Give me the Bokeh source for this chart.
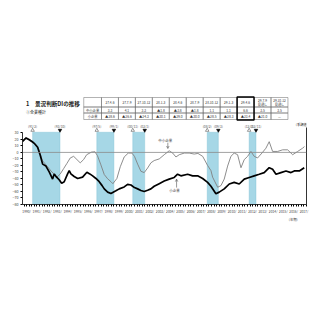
from bokeh.plotting import figure
from bokeh.layouts import column
from bokeh.models import Range1d, FixedTicker, LinearAxis, Label, Arrow, OpenHead, Span
from bokeh.core.properties import value
from bokeh.embed import file_html
from bokeh.resources import INLINE

JP = "Noto Sans CJK JP"

# ---------------- data ----------------
years_small = [1990.11, 1990.43, 1990.75, 1991.08, 1991.24, 1991.57, 1991.82, 1992.06, 1992.38, 1992.70,
               1993.03, 1993.19, 1993.42, 1993.67, 1993.91, 1994.16, 1994.49, 1994.65, 1994.81, 1995.13,
               1995.47, 1995.95, 1996.37, 1996.65, 1996.93, 1997.25, 1997.57, 1997.85, 1998.06, 1998.39,
               1998.71, 1999.19, 1999.52, 2000.00, 2000.33, 2000.66, 2001.00, 2001.31, 2001.63, 2001.95,
               2002.28, 2002.60, 2002.92, 2003.41, 2003.90, 2004.38, 2004.87, 2005.20, 2005.52, 2006.18,
               2006.66, 2007.15, 2007.64, 2008.12, 2008.45, 2008.93, 2009.25, 2009.74, 2010.23, 2010.71,
               2011.20, 2011.69, 2012.17, 2012.66, 2013.15, 2013.63, 2014.12, 2014.45, 2014.78, 2015.26,
               2015.75, 2016.24, 2016.56, 2017.05, 2017.53]
di_small = [17, 22, 19.5, 16, 14, 8, -4, -18, -21, -30,
            -41, -33, -38, -42, -47.5, -45, -33, -28, -33, -37,
            -40, -38, -30.5, -33, -36, -40, -45, -51, -56, -61,
            -63, -59, -56, -53, -49, -50, -54, -56, -58.5, -60,
            -58, -56, -52, -48, -44, -41, -38.5, -33.5, -36, -33.5,
            -36, -36, -40, -46, -52, -63.5, -61, -56, -48.5, -46,
            -48.5, -41, -38.5, -36, -33.5, -31, -23.5, -26, -33.5, -31,
            -28.5, -31, -28.5, -28.5, -23.5]

years_sme = [1990.11, 1990.43, 1990.75, 1991.08, 1991.57, 1991.82, 1992.06, 1992.38, 1992.70, 1992.87,
             1993.19, 1993.45, 1993.78, 1994.10, 1994.42, 1994.75, 1995.08, 1995.40, 1995.72, 1996.05,
             1996.35, 1996.82, 1997.15, 1997.40, 1997.73, 1998.06, 1998.39, 1998.71, 1998.90, 1999.29,
             1999.62, 2000.00, 2000.40, 2000.75, 2001.00, 2001.31, 2001.63, 2001.95, 2002.28, 2002.60,
             2002.92, 2003.41, 2003.90, 2004.38, 2004.72, 2005.04, 2005.36, 2005.85, 2006.33, 2006.82,
             2007.18, 2007.64, 2008.12, 2008.45, 2008.61, 2009.10, 2009.42, 2009.74, 2010.07, 2010.39,
             2010.71, 2011.04, 2011.37, 2011.69, 2012.02, 2012.34, 2012.66, 2012.99, 2013.41, 2013.80,
             2014.12, 2014.45, 2014.94, 2015.43, 2015.91, 2016.40, 2016.89, 2017.37, 2017.55]
di_sme = [18, 23, 20.5, 17, 9.5, -2, -13, -19, -25, -28.5,
          -33.5, -38, -33, -25, -17, -8.5, -6, -11, -16, -11,
          -3.5, 0.5, 1, -5, -19, -34, -40.5, -45, -48, -40,
          -22, -7, -1, -1, -6, -18, -29, -31, -24, -16,
          -12.5, -10, -3.5, 2.5, -1, -7, -3.5, -1, -1, -2.5,
          -1.5, -6, -20, -28, -38, -53.5, -51, -41, -21, -6,
          -1, -3.5, -23.5, -11, -6, 1.5, -6, -8.5, -1, 6.5,
          16.5, 1.5, 1.5, 4, 4, -3.5, 1.5, 6.5, 9]

peaks = [1991.083, 1997.333, 2000.833, 2008.083, 2012.167]
troughs = [1993.75, 1999.0, 2002.0, 2009.167, 2012.833]
peak_labels = ["(91/2)", "(97/5)", "(00/11)", "(08/2)", "(12/3)"]
trough_labels = ["(93/10)", "(99/1)", "(02/1)", "(09/3)", "(12/11)"]

tick_years = list(range(1990, 2018))
tick_labels = [f"{y}/" for y in tick_years]

table_periods = ["27.4-6", "27.7-9", "27.10-12", "28.1-3", "28.4-6", "28.7-9",
                 "28.10-12", "29.1-3", "29.4-6", "29.7-9", "29.10-12"]
table_forecast = [False] * 9 + [True, True]
table_rows = ["中小企業", "小企業"]
table_sme = ["3.3", "4.1", "3.3", "▲1.8", "▲3.8", "▲1.8", "1.1", "1.1", "6.6", "3.5", "3.5"]
table_small = ["▲28.6", "▲26.6", "▲24.3", "▲30.1", "▲29.0", "▲30.0", "▲28.5", "▲28.3", "▲23.4", "▲21.0", "—"]
highlight_col = 8

# ---------------- header (title + table) ----------------
HH = 121
h = figure(width=320, height=HH, x_range=Range1d(0, 320), y_range=Range1d(HH, 0),
           output_backend="svg", toolbar_location=None, min_border=0,
           x_axis_type=None, y_axis_type=None)
h.grid.visible = False
h.outline_line_color = None

h.text(x=[4], y=[103.5], text=["1　景況判断DIの推移"], text_font=value(JP),
       text_font_size="5.6px", text_font_style="bold", text_baseline="middle", text_color="#222")
h.text(x=[4], y=[111.5], text=["①全業種計"], text_font=value(JP),
       text_font_size="4px", text_baseline="middle", text_color="#222")

lab_l, lab_r = 69, 89
cw = 19.1
ncol = len(table_periods)
row_y = [97, 106.5, 112.5, 119]
lefts = [lab_l] + [lab_r + i * cw for i in range(ncol)]
rights = [lab_r] + [lab_r + (i + 1) * cw for i in range(ncol)]
L, R, T, B = [], [], [], []
for r in range(3):
    for c in range(ncol + 1):
        L.append(lefts[c]); R.append(rights[c]); T.append(row_y[r]); B.append(row_y[r + 1])
h.quad(left=L, right=R, top=T, bottom=B, fill_color=None, line_color="#666", line_width=0.5)

cx = [lab_r + (i + 0.5) * cw for i in range(ncol)]
hdr_txt, hdr_y, hdr_x = [], [], []
for i, (per, fc) in enumerate(zip(table_periods, table_forecast)):
    if fc:
        hdr_txt += [per, "見通し"]; hdr_y += [100, 103.7]; hdr_x += [cx[i], cx[i]]
    else:
        hdr_txt.append(per); hdr_y.append(101.8); hdr_x.append(cx[i])
h.text(x=hdr_x, y=hdr_y, text=hdr_txt, text_font=value(JP), text_font_size="3.2px",
       text_align="center", text_baseline="middle", text_color="#333")
mid1 = (row_y[1] + row_y[2]) / 2
mid2 = (row_y[2] + row_y[3]) / 2
h.text(x=[(lab_l + lab_r) / 2] * 2, y=[mid1, mid2], text=table_rows, text_font=value(JP),
       text_font_size="3.3px", text_align="center", text_baseline="middle", text_color="#333")
h.text(x=cx, y=[mid1] * ncol, text=table_sme, text_font=value(JP), text_font_size="3.3px",
       text_align="center", text_baseline="middle", text_color="#333")
h.text(x=cx, y=[mid2] * ncol, text=table_small, text_font=value(JP), text_font_size="3.3px",
       text_align="center", text_baseline="middle", text_color="#333")
h.quad(left=[lab_r + highlight_col * cw], right=[lab_r + (highlight_col + 1) * cw],
       top=[96.5], bottom=[119.5], fill_color=None, line_color="black", line_width=1.4)

# ---------------- chart ----------------
PH = 216 - HH
p = figure(width=320, height=PH, x_range=Range1d(1990.1, 2017.75), y_range=Range1d(-80, 47.5),
           output_backend="svg", toolbar_location=None,
           min_border_left=22, min_border_right=14, min_border_top=0, min_border_bottom=10)
p.grid.visible = False
p.outline_line_color = None

p.quad(left=peaks, right=troughs, bottom=-80, top=31, fill_color="#a6d7e6", line_color="#7fbfd3",
       line_width=0.4)
p.add_layout(Span(location=0, dimension="width", line_color="#8a8a8a", line_width=0.8))

p.line(years_sme, di_sme, line_color="#808080", line_width=0.9)
p.line(years_small, di_small, line_color="black", line_width=1.7)

p.text(x=peaks, y=[40.5] * 5, text=peak_labels, text_font=value(JP), text_font_size="3.3px",
       text_align="center", text_baseline="middle", text_color="#555")
p.text(x=troughs, y=[40.5] * 5, text=trough_labels, text_font=value(JP), text_font_size="3.3px",
       text_align="center", text_baseline="middle", text_color="#555")
p.scatter(x=peaks, y=[34] * 5, marker="triangle", size=3.5, fill_color="white", line_color="#555",
          line_width=0.6)
p.scatter(x=troughs, y=[34] * 5, marker="inverted_triangle", size=3.5, fill_color="black",
          line_color="black", line_width=0.6)

# axes
p.yaxis.ticker = FixedTicker(ticks=list(range(-80, 31, 10)))
p.yaxis.bounds = (-80, 30)
p.yaxis.major_label_text_font_size = "3.6px"
p.yaxis.major_label_text_font = JP
p.yaxis.major_label_text_color = "#444"
p.yaxis.major_tick_out = 2
p.yaxis.major_tick_in = 0
p.yaxis.minor_tick_line_color = None
p.yaxis.major_label_standoff = 2
p.yaxis.axis_line_width = 0.8

quarters = [y + q * 0.25 for y in range(1990, 2018) for q in range(4)] + [2018.0]
p.xaxis.ticker = FixedTicker(ticks=[y + 0.5 for y in tick_years], minor_ticks=quarters)
p.xaxis.major_label_overrides = {y + 0.5: t for y, t in zip(tick_years, tick_labels)}
p.xaxis.major_label_text_font_size = "3.3px"
p.xaxis.major_label_text_font = JP
p.xaxis.major_label_text_color = "#444"
p.xaxis.major_tick_in = 0
p.xaxis.major_tick_out = 0
p.xaxis.minor_tick_in = 0
p.xaxis.minor_tick_out = 2
p.xaxis.major_label_standoff = 2
p.xaxis.axis_line_width = 0.8

ra = LinearAxis(bounds=(-80, 38), ticker=FixedTicker(ticks=[]), axis_line_width=0.8,
                major_tick_line_color=None, minor_tick_line_color=None)
p.add_layout(ra, "right")

p.add_layout(Label(x=1988.8, y=40, text="(DI)", text_font=JP, text_font_size="3.6px",
                   text_baseline="middle", text_color="#333"))
p.add_layout(Label(x=2017.3, y=42.5, text="(季調値)", text_font=JP, text_font_size="3.3px",
                   text_align="center", text_baseline="middle", text_color="#333"))

p.text(x=[2004.0], y=[19], text=["中小企業"], text_font=value(JP), text_font_size="3.5px",
       text_align="center", text_baseline="middle", text_color="#333")
p.add_layout(Arrow(end=OpenHead(size=2.5, line_width=0.5, line_color="#333"),
                   x_start=2004.25, y_start=15, x_end=2004.25, y_end=6,
                   line_width=0.5, line_color="#333"))
p.text(x=[2004.9], y=[-59], text=["小企業"], text_font=value(JP), text_font_size="3.5px",
       text_align="center", text_baseline="middle", text_color="#333")
p.add_layout(Arrow(end=OpenHead(size=2.5, line_width=0.5, line_color="#333"),
                   x_start=2005.1, y_start=-54, x_end=2005.1, y_end=-41,
                   line_width=0.5, line_color="#333"))

# ---------------- footer ----------------
FH = 320 - 216
f = figure(width=320, height=FH, x_range=Range1d(0, 320), y_range=Range1d(FH, 0),
           output_backend="svg", toolbar_location=None, min_border=0,
           x_axis_type=None, y_axis_type=None)
f.grid.visible = False
f.outline_line_color = None
f.text(x=[305], y=[2.5], text=["(年期)"], text_font=value(JP), text_font_size="3.3px",
       text_align="center", text_baseline="middle", text_color="#333")

layout = column(h, p, f, spacing=0)
open("out.html", "w").write(file_html(layout, INLINE))
